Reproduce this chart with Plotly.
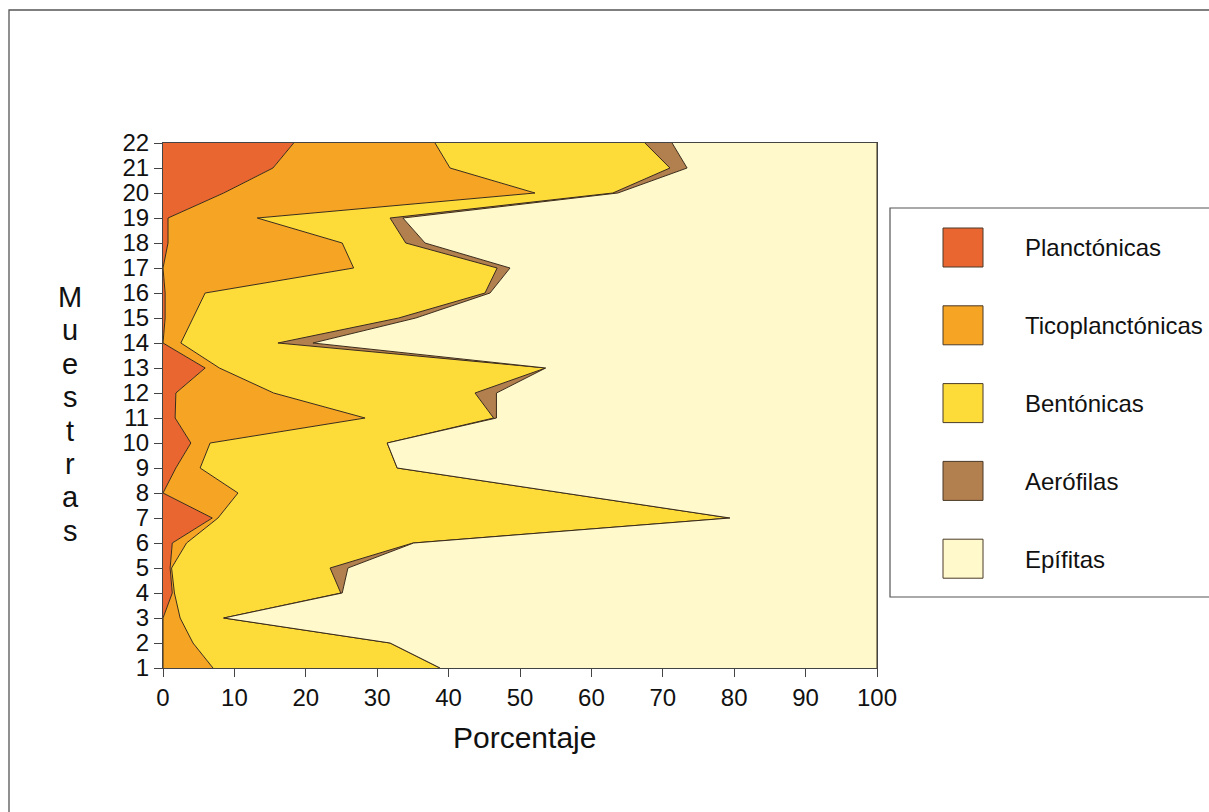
import plotly.graph_objects as go

# ---------------- data ----------------
muestras = list(range(1, 23))
categorias = ["Planctónicas", "Ticoplanctónicas", "Bentónicas", "Aerófilas", "Epífitas"]

# cumulative boundaries (sample 1..22)
cum_plan = [0, 0, 0, 1.3, 1.0, 1.3, 6.9, 0, 1.8, 3.9, 1.7, 1.8, 5.9, 0, 0.3, 0.3, 0, 0.7, 0.7, 8.5, 15.4, 18.3]
cum_tico = [7.0, 4.2, 2.4, 1.6, 1.2, 3.3, 7.7, 10.5, 5.2, 6.6, 28.3, 15.5, 7.9, 2.5, 4.2, 5.9, 26.7, 25.1, 13.2, 52.1, 40.2, 38.1]
cum_bent = [38.8, 31.8, 8.5, 24.9, 23.4, 35.0, 79.4, 56.0, 32.8, 31.4, 46.3, 43.7, 53.6, 16.1, 33.0, 45.1, 46.8, 34.0, 31.8, 63.0, 71.0, 67.5]
cum_aero = [38.8, 31.8, 8.5, 25.1, 25.9, 35.1, 79.4, 56.0, 32.8, 31.4, 46.7, 46.7, 53.6, 21.0, 35.4, 45.8, 48.6, 36.7, 33.6, 63.7, 73.4, 71.3]

planctonicas = cum_plan
ticoplanctonicas = [round(t - p, 2) for t, p in zip(cum_tico, cum_plan)]
bentonicas = [round(b - t, 2) for b, t in zip(cum_bent, cum_tico)]
aerofilas = [round(a - b, 2) for a, b in zip(cum_aero, cum_bent)]
epifitas = [round(100 - a, 2) for a in cum_aero]

series = [planctonicas, ticoplanctonicas, bentonicas, aerofilas, epifitas]
colores = ["#EA6630", "#F6A424", "#FDDC3A", "#B27F4E", "#FFF9CC"]

x_ticks = list(range(0, 101, 10))

# ---------------- figure ----------------
W, H = 1209, 812
L, R, T, B = 163, 877, 143, 668
FONT = "Liberation Sans, Arial, sans-serif"


def px(xp):
    return (xp - L) / (R - L)


def py(yp):
    return (B - yp) / (B - T)


fig = go.Figure()
for name, vals, col in zip(categorias, series, colores):
    fig.add_trace(go.Scatter(
        x=vals, y=muestras, name=name, mode="lines",
        stackgroup="one", orientation="h",
        line=dict(color="#3a2a18", width=1),
        fillcolor=col, showlegend=False,
    ))

shapes = []
annotations = []

# outer frame
shapes.append(dict(type="rect", xref="paper", yref="paper",
                   x0=px(9), x1=px(1230), y0=py(10), y1=py(840),
                   line=dict(color="#555555", width=1.3), fillcolor="rgba(0,0,0,0)", layer="below"))

# legend box
shapes.append(dict(type="rect", xref="paper", yref="paper",
                   x0=px(890), x1=px(1240), y0=py(208), y1=py(597),
                   line=dict(color="#555555", width=1.2), fillcolor="white", layer="below"))
for i, (name, col) in enumerate(zip(categorias, colores)):
    top = 228 + i * 77.8
    shapes.append(dict(type="rect", xref="paper", yref="paper",
                       x0=px(943), x1=px(983), y0=py(top), y1=py(top + 39),
                       line=dict(color="#4a3a28", width=1), fillcolor=col))
    annotations.append(dict(xref="paper", yref="paper", x=px(1023), y=py(top + 20),
                            text=name, showarrow=False, xanchor="left", yanchor="middle",
                            font=dict(family=FONT, size=24, color="#111111")))

# y-axis title as stacked letters
for i, ch in enumerate("Muestras"):
    annotations.append(dict(xref="paper", yref="paper", x=px(70), y=py(297 + i * 33.4),
                            text=ch, showarrow=False, xanchor="center", yanchor="middle",
                            font=dict(family=FONT, size=29, color="#111111")))

# x-axis title
annotations.append(dict(xref="paper", yref="paper", x=px(524), y=py(737),
                        text="Porcentaje", showarrow=False, xanchor="center", yanchor="middle",
                        font=dict(family=FONT, size=30, color="#111111")))

fig.update_layout(
    width=W, height=H,
    margin=dict(l=L, r=W - R, t=T, b=H - B),
    paper_bgcolor="white", plot_bgcolor="white",
    font=dict(family=FONT, size=24, color="#111111"),
    shapes=shapes, annotations=annotations,
    xaxis=dict(range=[0, 100], tickvals=x_ticks, ticks="outside", ticklen=8,
               tickcolor="#444444", showgrid=False, zeroline=False,
               showline=True, linecolor="#444444", linewidth=1, mirror=True,
               tickfont=dict(family=FONT, size=24, color="#111111")),
    yaxis=dict(range=[1, 22], tickvals=muestras, ticks="outside", ticklen=8,
               tickcolor="#444444", showgrid=False, zeroline=False,
               showline=True, linecolor="#444444", linewidth=1, mirror=True,
               tickfont=dict(family=FONT, size=24, color="#111111")),
)

fig.write_html("out.html")
